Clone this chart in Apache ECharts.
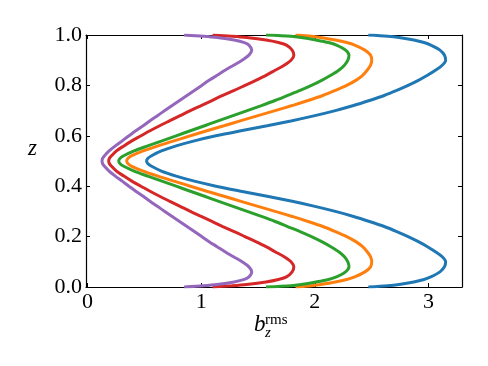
<!DOCTYPE html>
<html>
<head>
<meta charset="utf-8">
<script src="https://cdn.jsdelivr.net/npm/echarts@6/dist/echarts.min.js"></script>
<style>
  html, body { margin: 0; padding: 0; background: #fff; }
  #chart { width: 488px; height: 366px; }
</style>
</head>
<body>
<div id="chart"></div>
<script>
// z levels (vertical axis) shared by every profile
var zLevels = [0, 0.005, 0.01, 0.02, 0.03, 0.04, 0.06, 0.08, 0.10, 0.12, 0.14, 0.16, 0.18, 0.20, 0.22, 0.24, 0.26, 0.28, 0.30,
  0.32, 0.34, 0.36, 0.38, 0.40, 0.42, 0.44, 0.46, 0.48, 0.49, 0.5,
  0.51, 0.52, 0.54, 0.56, 0.58, 0.60, 0.62, 0.64, 0.66, 0.68, 0.70, 0.72, 0.74, 0.76, 0.78, 0.80, 0.82, 0.84, 0.86,
  0.88, 0.90, 0.92, 0.94, 0.96, 0.97, 0.98, 0.99, 0.995, 1];

// b_z rms profiles
var blueX = [2.47, 2.64, 2.74, 2.87, 2.96, 3.02, 3.10, 3.14, 3.15, 3.12, 3.06, 2.99, 2.91, 2.82, 2.72, 2.61, 2.48, 2.34, 2.18,
  2.00, 1.80, 1.58, 1.35, 1.13, 0.94, 0.78, 0.65, 0.56, 0.53, 0.52,
  0.53, 0.56, 0.65, 0.78, 0.94, 1.13, 1.35, 1.58, 1.80, 2.00, 2.18, 2.34, 2.48, 2.61, 2.72, 2.82, 2.91, 2.99, 3.06,
  3.12, 3.15, 3.14, 3.10, 3.02, 2.96, 2.87, 2.74, 2.64, 2.47];
var orangeX = [1.83, 1.97, 2.05, 2.18, 2.28, 2.35, 2.44, 2.49, 2.50, 2.49, 2.46, 2.42, 2.36, 2.28, 2.18, 2.07, 1.94, 1.80, 1.65,
  1.50, 1.35, 1.20, 1.05, 0.905, 0.76, 0.62, 0.49, 0.385, 0.355, 0.345,
  0.355, 0.385, 0.49, 0.62, 0.76, 0.905, 1.05, 1.20, 1.35, 1.50, 1.65, 1.80, 1.94, 2.07, 2.18, 2.28, 2.36, 2.42, 2.46,
  2.49, 2.50, 2.49, 2.44, 2.35, 2.28, 2.18, 2.05, 1.97, 1.83];
var greenX = [1.57, 1.79, 1.88, 2.01, 2.12, 2.19, 2.27, 2.30, 2.29, 2.26, 2.21, 2.14, 2.06, 1.97, 1.87, 1.76, 1.65, 1.53, 1.405,
  1.28, 1.155, 1.03, 0.905, 0.78, 0.655, 0.53, 0.41, 0.315, 0.285, 0.275,
  0.285, 0.315, 0.41, 0.53, 0.655, 0.78, 0.905, 1.03, 1.155, 1.28, 1.405, 1.53, 1.65, 1.76, 1.87, 1.97, 2.06, 2.14, 2.21,
  2.26, 2.29, 2.30, 2.27, 2.19, 2.12, 2.01, 1.88, 1.79, 1.57];
var redX = [1.10, 1.27, 1.40, 1.57, 1.68, 1.75, 1.80, 1.815, 1.79, 1.73, 1.65, 1.57, 1.48, 1.385, 1.29, 1.19, 1.095, 1.0, 0.905,
  0.815, 0.725, 0.635, 0.55, 0.47, 0.39, 0.32, 0.255, 0.21, 0.192, 0.187,
  0.192, 0.21, 0.255, 0.32, 0.39, 0.47, 0.55, 0.635, 0.725, 0.815, 0.905, 1.0, 1.095, 1.19, 1.29, 1.385, 1.48, 1.57, 1.65,
  1.73, 1.79, 1.815, 1.80, 1.75, 1.68, 1.57, 1.40, 1.27, 1.10];
var purpleX = [0.85, 1.02, 1.14, 1.29, 1.38, 1.42, 1.445, 1.42, 1.36, 1.285, 1.21, 1.14, 1.07, 1.005, 0.94, 0.875, 0.81, 0.745, 0.68,
  0.615, 0.55, 0.49, 0.425, 0.365, 0.305, 0.245, 0.19, 0.148, 0.133, 0.128,
  0.133, 0.148, 0.19, 0.245, 0.305, 0.365, 0.425, 0.49, 0.55, 0.615, 0.68, 0.745, 0.81, 0.875, 0.94, 1.005, 1.07, 1.14, 1.21,
  1.285, 1.36, 1.42, 1.445, 1.42, 1.38, 1.29, 1.14, 1.02, 0.85];

var xTicks = [0, 1, 2, 3];

var profiles = [
  { x: blueX, color: '#1f77b4' },
  { x: orangeX, color: '#ff7f0e' },
  { x: greenX, color: '#2ca02c' },
  { x: redX, color: '#d62728' },
  { x: purpleX, color: '#9467bd' }
];

var serif = '"Liberation Serif", "DejaVu Serif", serif';

function pairs(xs) {
  var out = [];
  for (var i = 0; i < xs.length; i++) {
    out.push([xs[i], zLevels[i]]);
  }
  return out;
}

var axisCommon = {
  type: 'value',
  splitLine: { show: false },
  axisLine: { show: true, onZero: false, lineStyle: { color: '#000', width: 1.2 } },
  axisTick: { show: true, inside: true, length: 4, lineStyle: { color: '#000', width: 1 } }
};

var myChart = echarts.init(document.getElementById('chart'), null, { renderer: 'canvas' });
myChart.setOption({
  animation: false,
  backgroundColor: '#fff',
  grid: { left: 86, right: 26, top: 35, bottom: 79, containLabel: false },
  xAxis: [
    Object.assign({}, axisCommon, {
      position: 'bottom', min: -0.013, max: 3.294,
      axisTick: Object.assign({}, axisCommon.axisTick, { customValues: xTicks }),
      axisLabel: { customValues: xTicks, color: '#000', fontFamily: serif, fontSize: 22, margin: 4,
        formatter: function (v) { return String(v); } }
    }),
    Object.assign({}, axisCommon, {
      position: 'top', min: -0.013, max: 3.294,
      axisTick: Object.assign({}, axisCommon.axisTick, { customValues: xTicks }),
      axisLabel: { show: false }
    })
  ],
  yAxis: [
    Object.assign({}, axisCommon, {
      position: 'left', min: 0, max: 1, interval: 0.2,
      axisLabel: { color: '#000', fontFamily: serif, fontSize: 22, margin: 4,
        formatter: function (v) { return v.toFixed(1); } }
    }),
    Object.assign({}, axisCommon, {
      position: 'right', min: 0, max: 1, interval: 0.2,
      axisLabel: { show: false }
    })
  ],
  graphic: [
    { type: 'text', x: 28, y: 149, style: { text: 'z', font: 'italic 23px ' + serif, fill: '#000', verticalAlign: 'middle' } },
    { type: 'text', x: 254, y: 325, style: { text: 'b', font: 'italic 23px ' + serif, fill: '#000', verticalAlign: 'middle' } },
    { type: 'text', x: 265, y: 320, style: { text: 'rms', font: '15px ' + serif, fill: '#000', verticalAlign: 'middle' } },
    { type: 'text', x: 265, y: 333, style: { text: 'z', font: 'italic 15px ' + serif, fill: '#000', verticalAlign: 'middle' } }
  ],
  series: profiles.map(function (p) {
    return {
      type: 'line',
      data: pairs(p.x),
      showSymbol: false,
      smooth: 0.3,
      clip: true,
      lineStyle: { color: p.color, width: 3 },
      itemStyle: { color: p.color }
    };
  })
});
</script>
</body>
</html>
